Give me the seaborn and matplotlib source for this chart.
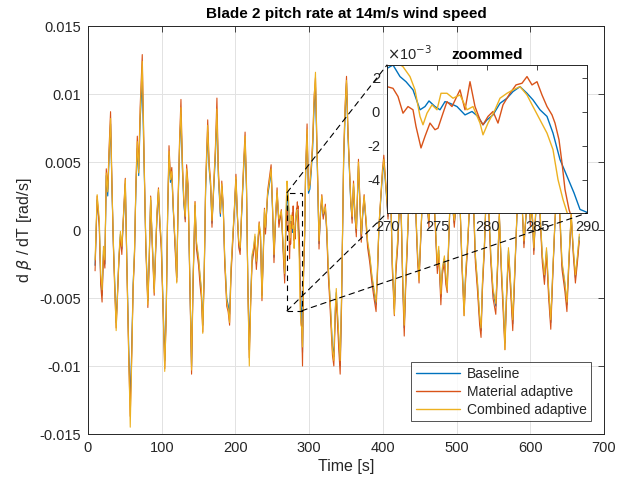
import numpy as np
import pandas as pd
import matplotlib
matplotlib.use("Agg")
import matplotlib.pyplot as plt
import seaborn as sns
from matplotlib.patches import Rectangle, ConnectionPatch

# ---------------- data (values in 1e-3 rad/s) ----------------
series_names = ["Baseline", "Material adaptive", "Combined adaptive"]
series_colors = ["#0072BD", "#D95319", "#EDB120"]

t_pre = [
    9.6, 12.4, 15.3, 17.2, 19.1, 21.0, 22.9, 24.8, 26.8, 28.7,
    30.6, 32.5, 34.4, 36.3, 38.2, 40.1, 42.0, 44.0, 45.9, 47.8,
    50.6, 52.6, 55.4, 57.3, 59.2, 61.2, 63.1, 65.0, 66.9, 68.8,
    70.7, 73.6, 76.4, 78.4, 81.2, 83.1, 85.0, 86.9, 89.8, 91.7,
    93.6, 95.6, 97.5, 99.4, 102.2, 104.1, 106.1, 108.0, 109.9, 111.8,
    113.7, 115.6, 118.5, 120.4, 122.3, 124.2, 126.1, 128.0, 129.9, 131.9,
    133.8, 135.7, 137.6, 140.5, 142.4, 145.2, 147.1, 150.0, 151.9, 153.8,
    155.7, 157.7, 159.6, 162.4, 164.3, 166.3, 168.2, 170.1, 172.9, 174.9,
    176.8, 179.6, 181.5, 183.5, 185.4, 188.2, 190.1, 192.1, 194.0, 196.8,
    198.7, 200.7, 202.6, 204.5, 206.4, 208.3, 211.2, 213.1, 215.0, 216.9,
    218.8, 220.7, 222.6, 224.5, 226.5, 228.4, 230.3, 232.2, 234.1, 236.0,
    237.9, 239.4, 240.8, 243.7, 246.5, 248.4, 250.3, 252.3, 254.5, 256.5,
    259.0, 262.3, 264.5, 266.8, 268.5,
]
base_pre = [
    -2.6, 2.2, 0.5, -3.5, -4.8, -1.5, -2.5, 4.0, 2.5, 5.5,
    7.8, 3.0, -1.0, -4.0, -6.8, -4.5, -2.0, -0.3, -1.4, 0.5,
    3.4, -2.0, -9.0, -12.5, -9.0, -4.0, -1.6, 3.0, 6.0, 4.0,
    8.0, 11.0, 4.0, -1.0, -5.2, -2.0, 2.2, -0.5, -4.3, -1.5,
    1.0, 2.8, 0.5, -1.0, -6.0, -9.6, -6.0, 1.0, 5.5, 3.5,
    4.0, 1.5, -1.4, -3.5, 2.0, 6.0, 8.5, 4.5, 2.0, 0.8,
    4.3, 3.0, -2.0, -10.0, -4.0, 1.8, -1.0, -2.2, -3.4, -4.5,
    -7.0, -3.0, 3.0, 7.2, 4.5, 3.2, 0.5, 2.5, 5.5, 8.5,
    4.0, 1.0, 3.2, 1.5, -2.0, -5.0, -5.5, -6.2, -3.0, -0.2,
    1.5, 3.7, 1.0, -1.0, -1.5, 1.0, 4.5, 6.5, 3.0, -4.0,
    -8.8, -5.0, -2.0, -1.5, -0.5, -2.5, -1.0, 0.3, -0.5, -4.8,
    -1.5, 1.3, 0.0, 2.5, 3.5, 4.3, 1.5, -2.0, 1.0, 2.7,
    0.5, 1.3, -1.0, -3.4, 0.5,
]
mat_pre = [
    -3.0, 2.5, 0.2, -4.0, -5.3, -1.8, -2.8, 4.5, 3.0, 6.2,
    8.7, 3.5, -1.2, -4.5, -7.2, -4.8, -2.2, -0.5, -1.8, 0.8,
    3.8, -2.4, -9.8, -13.7, -9.5, -4.4, -1.9, 3.5, 6.9, 4.5,
    9.0, 12.9, 4.8, -1.3, -5.7, -2.3, 2.5, -0.8, -4.8, -1.7,
    1.2, 3.1, 0.3, -1.4, -6.6, -10.2, -6.5, 1.3, 6.2, 4.0,
    4.6, 1.8, -1.8, -3.8, 2.4, 6.6, 9.6, 5.2, 2.4, 0.6,
    4.8, 3.4, -2.4, -10.6, -4.5, 2.1, -1.4, -2.6, -4.0, -5.0,
    -7.5, -3.4, 3.5, 8.1, 5.0, 3.6, 0.2, 2.8, 6.2, 9.7,
    4.6, 1.2, 3.6, 1.8, -2.4, -5.6, -6.0, -7.0, -3.4, -0.5,
    1.8, 4.1, 1.2, -1.3, -1.8, 1.2, 5.0, 7.2, 3.4, -4.4,
    -9.4, -5.4, -2.4, -1.8, -0.8, -2.9, -1.3, 0.6, -0.8, -5.2,
    -1.8, 1.6, -0.3, 2.9, 4.0, 4.8, 1.8, -2.4, 0.8, 3.1,
    0.2, 1.5, -1.4, -3.9, 0.2,
]
comb_pre = [
    -2.2, 2.6, 0.8, -3.2, -4.4, -1.2, -2.2, 4.2, 2.8, 5.8,
    8.2, 3.2, -0.8, -4.2, -7.4, -4.7, -1.8, -0.1, -1.2, 0.7,
    3.7, -2.2, -9.5, -14.5, -9.8, -4.2, -1.4, 3.3, 6.5, 4.2,
    8.4, 12.4, 4.3, -0.8, -5.5, -1.8, 2.4, -0.3, -4.6, -1.3,
    1.3, 3.0, 0.7, -0.8, -6.3, -10.4, -6.2, 1.2, 5.8, 3.7,
    4.3, 1.7, -1.1, -3.9, 2.2, 6.3, 9.0, 4.8, 2.3, 1.0,
    4.5, 3.2, -1.8, -10.3, -3.8, 2.0, -0.8, -2.0, -3.2, -4.3,
    -7.6, -2.8, 3.3, 7.7, 4.7, 3.4, 0.7, 2.7, 5.9, 8.9,
    4.2, 1.3, 3.4, 1.7, -1.8, -5.2, -5.8, -6.8, -2.8, 0.0,
    1.7, 3.9, 1.2, -0.8, -1.3, 1.2, 4.8, 6.9, 3.2, -4.2,
    -10.0, -5.3, -1.8, -1.3, -0.3, -2.3, -0.8, 0.5, -0.3, -5.0,
    -1.3, 1.5, 0.2, 2.7, 3.7, 4.5, 1.7, -1.8, 1.2, 2.9,
    0.8, 1.4, -0.8, -3.2, 1.5,
]

# zoomed window 270-290 s
t_zoom_base = [270, 270.6, 271.3, 271.9, 272.6, 273.3, 273.8, 274.2, 274.8, 275.3,
               275.8, 276.3, 277, 277.8, 278.5, 279.1, 279.6, 280, 280.6, 281.3,
               282, 282.6, 283.3, 284, 284.6, 285.3, 286, 286.6, 287.3, 288,
               288.7, 289.3, 290]
base_zoom = [2.55, 2.75, 2.07, 1.77, 1.29, 0.12, 0.31, 0.64, 0.31, 0.12,
             0.6, 0.5, 0.31, -0.18, 0.02, -0.27, -0.76, -0.47, -0.18, 0.5,
             0.8, 1.19, 1.48, 1.09, 0.7, 0.12, -0.27, -1.25, -2.8, -3.78,
             -4.76, -5.73, -5.9]
t_zoom_mat = [270, 270.6, 271.1, 271.6, 272.1, 272.6, 272.9, 273.4, 273.8, 274.3,
              274.8, 275.1, 275.6, 276, 276.5, 277.3, 277.8, 278.3, 278.8, 279.3,
              279.6, 280.1, 280.6, 281.1, 281.6, 282.3, 282.9, 283.5, 284, 284.5,
              285, 285.5, 286, 286.5, 286.8, 287.2, 287.5, 287.8, 288.2, 288.5,
              289, 289.5, 290]
mat_zoom = [1.48, 1.38, 0.9, -0.08, 0.31, 0.12, -0.86, -2.12, -1.44, -0.66,
            -1.05, -0.96, -0.08, 0.6, 0.31, 1.29, 0.12, 1.77, 0.31, -0.47,
            -0.76, -0.27, 0.02, -0.66, 0.41, 1.09, 1.58, 1.68, 2.07, 1.58,
            1.77, 0.99, 0.31, -0.18, -0.66, -1.64, -3.0, -4.56, -5.73, -6.3,
            -6.8, -7.0, -7.2]
t_zoom_comb = [270, 270.8, 271.6, 272.3, 272.8, 273.3, 273.6, 274, 274.5, 275,
               275.4, 276, 276.6, 277.3, 278, 278.6, 279.3, 279.6, 280.1, 280.8,
               281.3, 282, 282.6, 283.3, 284, 284.6, 285.3, 286, 286.6, 287.1,
               287.6, 288, 288.5, 289, 290]
comb_zoom = [3.6, 3.0, 2.65, 2.07, 1.29, -0.27, -0.76, -0.08, 0.41, 0.12,
             1.09, 1.09, 0.8, 0.99, 0.12, 0.31, -0.66, -1.35, -0.66, 0.12,
             0.8, 1.09, 1.29, 1.48, 0.99, 0.31, -0.47, -1.25, -2.22, -3.98,
             -5.15, -5.9, -6.6, -7.0, -7.2]

t_post = [
    291.0, 292.4, 293.8, 295.2,
    297.2, 299.1, 301.0, 302.9, 304.8, 306.7, 308.6, 310.5, 312.0, 313.4,
    315.3, 317.2, 319.1, 322.0, 323.9, 325.8, 327.7, 329.6, 331.6, 333.5,
    335.4, 336.8, 338.2, 340.2, 342.1, 344.0, 345.4, 346.8, 348.8, 350.7,
    352.6, 354.5, 356.4, 358.3, 360.2, 362.1, 364.0, 366.9, 368.8, 370.7,
    372.6, 374.6, 377.4, 379.3, 382.2, 385.1, 387.9, 390.8, 392.7, 394.6,
    397.5, 399.4, 401.3, 404.2, 407.0, 409.0, 410.9, 412.8, 415.6, 417.5,
    420.4, 423.3, 425.2, 427.1, 429.0, 430.9, 432.8, 435.7, 437.6, 440.5,
    443.4, 445.3, 447.2, 449.1, 451.0, 453.9, 456.7, 459.6, 462.5, 465.3,
    468.2, 471.1, 473.9, 475.8, 478.7, 480.6, 483.5, 485.4, 487.3, 489.2,
    492.1, 494.9, 496.9, 499.7, 502.6, 504.5, 507.4, 510.2, 512.1, 515.0,
    517.9, 520.7, 523.6, 525.5, 528.4, 531.3, 533.2, 535.1, 537.9, 540.8,
    543.7, 546.5, 549.4, 553.2, 556.1, 558.0, 560.9, 563.7, 565.6, 567.6,
    570.4, 573.3, 576.2, 579.0, 581.9, 585.7, 588.6, 591.4, 594.3, 597.2,
    600.1, 602.0, 604.8, 607.7, 610.6, 613.4, 616.3, 619.2, 622.0, 624.9,
    627.8, 630.6, 633.5, 637.3, 640.2, 643.0, 646.9, 649.7, 652.6, 655.5,
    658.3, 661.2, 664.1, 666.5,
]
base_post = [
    -9.0, -3.0, -0.6, 4.0,
    7.0, 2.7, 3.0, 4.3, 6.0, 9.0, 10.5, 6.0, 2.7, -1.0,
    1.0, 2.3, 1.0, 1.5, 0.0, -2.8, -4.5, -6.5, -8.5, -9.3,
    -6.0, -4.6, -6.0, -8.0, -10.0, -5.0, 0.0, 5.0, 8.5, 10.8,
    7.0, 4.5, 2.0, 0.8, 3.2, 1.0, -0.2, 4.7, 2.0, -0.6,
    1.0, 2.3, 0.5, -1.0, -2.0, -3.5, -4.5, -5.5, -3.0, 0.0,
    2.5, 4.0, 5.0, 3.0, 1.0, 4.0, 2.0, -2.5, -5.8, -3.0,
    -0.7, 3.0, 0.5, -4.0, -7.2, -4.0, -1.5, 2.5, 4.0, 1.5,
    3.0, 0.5, -2.0, -3.4, -1.0, 2.5, 5.0, 2.0, 0.5, 4.5,
    3.0, 0.5, -2.8, -1.5, -4.9, -3.0, -2.1, -3.5, -4.1, -1.0,
    3.5, 1.5, 0.5, 2.0, 5.0, 2.0, -2.5, -5.8, -3.5, -1.0,
    2.0, 4.5, 1.0, -2.0, -4.0, -6.5, -7.4, -4.0, -1.0, 3.5,
    1.5, -2.0, -4.5, -5.6, -2.0, 1.0, -3.0, -6.0, -8.3, -5.0,
    -1.5, -4.0, -6.9, -3.0, 1.0, 4.5, 2.0, -1.0, 1.0, 3.5,
    0.5, 2.0, -1.5, 1.5, 4.0, 1.0, -2.0, -3.5, -1.5, -4.5,
    -6.8, -3.0, 0.5, 4.0, 1.0, -2.5, -4.0, -5.5, -2.0, 1.0,
    -1.5, -3.5, -2.0, -0.5,
]
mat_post = [
    -10.0, -3.5, -0.9, 4.5,
    7.8, 3.0, 3.4, 4.8, 6.6, 9.8, 11.2, 6.5, 2.9, -1.4,
    1.3, 2.6, 0.8, 1.9, -0.3, -3.2, -5.0, -7.0, -9.2, -10.0,
    -6.5, -5.0, -6.6, -8.8, -10.6, -5.5, 0.3, 5.5, 9.2, 11.3,
    7.5, 4.9, 2.3, 0.5, 3.6, 1.2, -0.5, 5.2, 2.3, -0.9,
    1.3, 2.6, 0.3, -1.3, -2.4, -3.9, -5.0, -6.0, -3.3, 0.2,
    2.8, 4.4, 5.5, 3.3, 0.8, 4.4, 2.2, -2.9, -6.3, -3.3,
    -1.0, 3.3, 0.2, -4.5, -7.8, -4.4, -1.8, 2.8, 4.5, 1.2,
    3.4, 0.3, -2.4, -3.9, -1.3, 2.8, 5.5, 2.3, 0.2, 5.0,
    3.3, 0.2, -3.2, -1.8, -5.5, -3.3, -2.4, -4.0, -4.6, -1.3,
    3.9, 1.7, 0.2, 2.3, 5.5, 2.2, -2.9, -6.3, -3.9, -1.3,
    2.3, 5.0, 0.8, -2.4, -4.5, -7.0, -7.9, -4.4, -1.3, 3.9,
    1.2, -2.4, -5.0, -6.2, -2.3, 1.2, -3.4, -6.6, -8.8, -5.4,
    -1.8, -4.5, -7.4, -3.3, 1.2, 5.0, 2.2, -1.3, 1.3, 3.9,
    0.3, 2.3, -1.8, 1.8, 4.4, 0.8, -2.4, -4.0, -1.8, -5.0,
    -7.3, -3.3, 0.8, 4.5, 0.8, -2.9, -4.5, -6.0, -2.3, 1.2,
    -1.8, -3.9, -2.3, -0.8,
]
comb_post = [
    -8.6, -2.6, -0.3, 4.3,
    7.4, 2.9, 3.3, 4.6, 6.4, 9.6, 11.6, 6.3, 2.9, -0.8,
    1.2, 2.5, 1.2, 1.7, 0.2, -2.5, -4.3, -6.2, -8.8, -9.6,
    -5.8, -4.3, -5.8, -7.7, -9.6, -4.7, 0.3, 5.3, 9.0, 11.0,
    7.2, 4.7, 2.2, 1.0, 3.4, 1.2, 0.1, 5.0, 2.2, -0.3,
    1.2, 2.5, 0.7, -0.8, -1.8, -3.3, -4.3, -5.3, -2.7, 0.3,
    2.7, 4.2, 5.2, 3.2, 1.2, 4.2, 2.2, -2.2, -6.2, -2.7,
    -0.4, 3.2, 0.7, -3.8, -7.0, -3.7, -1.2, 2.7, 4.2, 1.7,
    3.2, 0.7, -1.8, -3.7, -0.8, 2.7, 5.2, 2.2, 0.7, 4.7,
    3.2, 0.7, -2.6, -1.2, -4.7, -2.8, -1.9, -3.3, -4.4, -0.8,
    3.7, 1.7, 0.7, 2.2, 5.2, 2.2, -2.3, -6.3, -3.3, -0.8,
    2.2, 4.7, 1.2, -1.8, -3.8, -6.3, -7.2, -3.8, -0.8, 3.7,
    1.7, -1.8, -4.3, -5.4, -1.8, 1.2, -2.8, -5.8, -8.8, -4.8,
    -1.3, -3.8, -6.6, -2.8, 1.2, 4.7, 2.2, -0.8, 1.2, 3.7,
    0.7, 2.2, -1.3, 1.7, 4.2, 1.2, -1.8, -3.3, -1.3, -4.3,
    -6.6, -2.8, 0.7, 4.2, 1.2, -2.3, -3.8, -5.3, -1.8, 1.2,
    -1.3, -3.3, -1.8, -0.3,
]

x_ticks = [0, 100, 200, 300, 400, 500, 600, 700]
y_ticks = [-0.015, -0.01, -0.005, 0, 0.005, 0.01, 0.015]
y_tick_labels = ["-0.015", "-0.01", "-0.005", "0", "0.005", "0.01", "0.015"]
zoom_xlim = (270, 290)
zoom_ylim = (-5.94e-3, 2.75e-3)
zoom_xticks = [270, 275, 280, 285, 290]
zoom_yticks = [-4e-3, -2e-3, 0, 2e-3]
zoom_ytick_labels = ["-4", "-2", "0", "2"]

# ---------------- build long-form table ----------------
parts = [
    (series_names[0], t_pre + t_zoom_base + t_post, base_pre + base_zoom + base_post),
    (series_names[1], t_pre + t_zoom_mat + t_post, mat_pre + mat_zoom + mat_post),
    (series_names[2], t_pre + t_zoom_comb + t_post, comb_pre + comb_zoom + comb_post),
]
frames = []
for name, tt, vv in parts:
    frames.append(pd.DataFrame({"t": tt, "v": np.array(vv) * 1e-3, "series": name}))
df = pd.concat(frames, ignore_index=True)

# ---------------- style ----------------
sns.set_theme(style="white")
plt.rcParams["font.family"] = ["Liberation Sans", "DejaVu Sans"]
plt.rcParams["axes.unicode_minus"] = False
txt = "#262626"

W, H = 627, 491
fig = plt.figure(figsize=(W / 100, H / 100), dpi=100)
ax = fig.add_axes([88 / W, 1 - 434 / H, 516 / W, 408 / H])

palette = dict(zip(series_names, series_colors))
sns.lineplot(data=df, x="t", y="v", hue="series", hue_order=series_names,
             palette=palette, estimator=None, sort=False, lw=0.8, ax=ax)

ax.set_xlim(0, 700)
ax.set_ylim(-0.015, 0.015)
ax.set_xticks(x_ticks)
ax.set_yticks(y_ticks)
ax.set_yticklabels(y_tick_labels)
ax.set_axisbelow(True)
ax.grid(True, color="#e2e2e2", lw=0.7)
ax.tick_params(direction="in", length=4, width=0.6, top=True, right=True,
               colors=txt, labelsize=10.5, pad=5)
for s in ax.spines.values():
    s.set_color(txt)
    s.set_linewidth(0.7)
ax.set_xlabel("Time [s]", fontsize=11.5, color=txt, labelpad=3)
ax.set_ylabel(r"d $\beta$ / dT [rad/s]", fontsize=11.5, color=txt, labelpad=4)
ax.set_title("Blade 2 pitch rate at 14m/s wind speed", fontsize=11,
             fontweight="bold", color="black", pad=6)

handles, labels = ax.get_legend_handles_labels()
leg = ax.legend(handles, labels, loc="lower right",
                bbox_to_anchor=(591 / W, 1 - 421 / H), bbox_transform=fig.transFigure,
                frameon=True, fancybox=False, edgecolor=txt, fontsize=10,
                handlelength=3.2, borderpad=0.3, labelspacing=0.3,
                handletextpad=0.5, borderaxespad=0)
leg.get_frame().set_linewidth(0.7)
for line in leg.get_lines():
    line.set_linewidth(1.0)

# zoom rectangle on main axes
ax.add_patch(Rectangle((zoom_xlim[0], zoom_ylim[0]), zoom_xlim[1] - zoom_xlim[0],
                       zoom_ylim[1] - zoom_ylim[0], fill=False, ec="black",
                       lw=0.8, ls=(0, (5, 4)), zorder=5))

# inset axes
axins = fig.add_axes([387 / W, 1 - 213 / H, 200 / W, 148 / H])
sub = df[(df["t"] >= 266) & (df["t"] <= 294)]
sns.lineplot(data=sub, x="t", y="v", hue="series", hue_order=series_names,
             palette=palette, estimator=None, sort=False, lw=1.0, ax=axins,
             legend=False)
axins.set_xlim(*zoom_xlim)
axins.set_ylim(*zoom_ylim)
axins.set_xticks(zoom_xticks)
axins.set_yticks(zoom_yticks)
axins.set_yticklabels(zoom_ytick_labels)
axins.set_xlabel("")
axins.set_ylabel("")
axins.set_facecolor("white")
axins.tick_params(direction="in", length=3.5, width=0.6, top=True, right=True,
                  colors=txt, labelsize=10.5, pad=5)
for s in axins.spines.values():
    s.set_color(txt)
    s.set_linewidth(0.7)
axins.set_title("zoommed", fontsize=11, fontweight="bold", color="black", pad=4)
axins.text(0.0, 1.015, r"$\times$10$^{-3}$", transform=axins.transAxes,
           ha="left", va="bottom", fontsize=10.5, color=txt)

# connector lines
for (xa, ya), (xb, yb) in [((zoom_xlim[0], zoom_ylim[1]), (0, 1)),
                           ((zoom_xlim[0], zoom_ylim[0]), (0, 0)),
                           ((zoom_xlim[1], zoom_ylim[0]), (1, 0))]:
    con = ConnectionPatch(xyA=(xa, ya), coordsA=ax.transData,
                          xyB=(xb, yb), coordsB=axins.transAxes,
                          color="black", lw=0.8, ls=(0, (5, 4)), zorder=6)
    fig.add_artist(con)

fig.savefig("out.png", dpi=100)
